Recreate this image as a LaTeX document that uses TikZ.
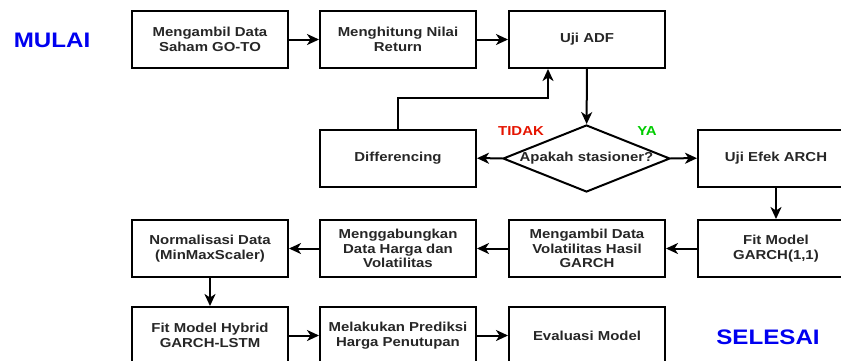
\documentclass[tikz,border=0pt]{standalone}
\usepackage{fontspec}
\setmainfont{Liberation Sans}[FakeStretch=1.15]
\usetikzlibrary{arrows.meta,shapes.geometric}
\definecolor{mulaiblue}{RGB}{0,0,240}
\definecolor{tidakred}{RGB}{229,20,0}
\definecolor{yagreen}{RGB}{0,204,0}
\begin{document}
\begin{tikzpicture}[x=1pt, y=-1pt,
  every node/.style={font=\fontsize{13}{14.5}\selectfont\bfseries, text=black!85},
  proc/.style={draw, line width=2pt, minimum width=156pt, minimum height=57pt, inner sep=0pt, align=center},
  decide/.style={draw, diamond, line width=2pt, aspect=2.5, minimum width=167pt, minimum height=67pt, inner sep=0pt},
  ends/.style={font=\fontsize{21}{24}\selectfont\bfseries, text=mulaiblue},
  arr/.style={-{Stealth[length=12pt, width=11pt, inset=3.5pt]}, line width=2pt}]
\useasboundingbox (0,0) rectangle (841,360);
\node[ends] (mulai) at (52,40) {MULAI};
\node[proc] (ambil) at (210,39.5) {Mengambil Data\\Saham GO-TO};
\node[proc] (hitung) at (398,39.5) {Menghitung Nilai\\Return};
\node[proc] (adf) at (587,39.5) {Uji ADF};
\node[proc] (diff) at (398,158) {Differencing};
\node[decide] (stas) at (586.5,158.5) {Apakah stasioner?};
\node[proc] (arch) at (776,158) {Uji Efek ARCH};
\node[proc] (garch) at (776,248.5) {Fit Model\\GARCH(1,1)};
\node[proc] (vol) at (587,248.5) {Mengambil Data\\Volatilitas Hasil\\GARCH};
\node[proc] (gabung) at (398,248.5) {Menggabungkan\\Data Harga dan\\Volatilitas};
\node[proc] (norm) at (210,248.5) {Normalisasi Data\\(MinMaxScaler)};
\node[proc] (hybrid) at (210,335.5) {Fit Model Hybrid\\GARCH-LSTM};
\node[proc] (prediksi) at (398,335.5) {Melakukan Prediksi\\Harga Penutupan};
\node[proc] (evaluasi) at (587,335.5) {Evaluasi Model};
\node[ends] (selesai) at (768,337) {SELESAI};
\node[text=tidakred] (tidak) at (521,131) {TIDAK};
\node[text=yagreen] (ya) at (647,131) {YA};
\coordinate (balik) at (548,98);
\draw[arr] (ambil) -- (hitung);
\draw[arr] (hitung) -- (adf);
\draw[arr] (adf) -- (stas);
\draw[arr] (stas) -- (diff);
\draw[arr] (stas) -- (arch);
\draw[arr] (diff.north) |- (balik) -- (balik |- adf.south);
\draw[arr] (arch) -- (garch);
\draw[arr] (garch) -- (vol);
\draw[arr] (vol) -- (gabung);
\draw[arr] (gabung) -- (norm);
\draw[arr] (norm) -- (hybrid);
\draw[arr] (hybrid) -- (prediksi);
\draw[arr] (prediksi) -- (evaluasi);
\end{tikzpicture}
\end{document}
